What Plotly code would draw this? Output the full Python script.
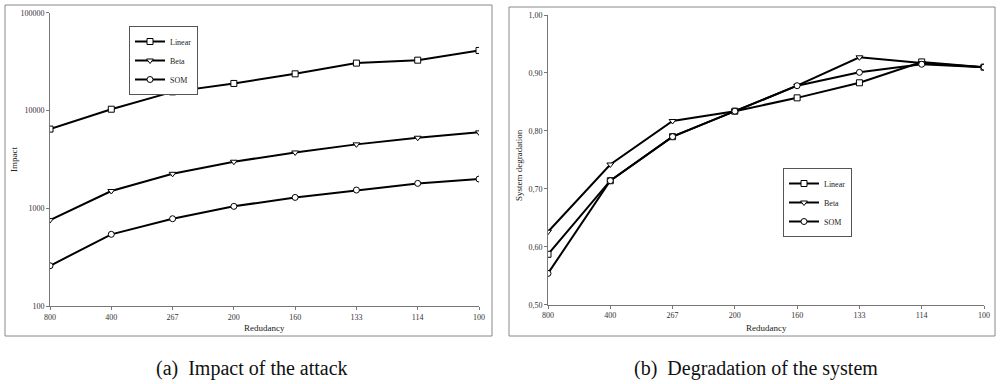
import plotly.graph_objects as go

categories = ["800", "400", "267", "200", "160", "133", "114", "100"]

impact_linear = [6450, 10300, 15500, 18900, 23700, 30500, 32700, 41100]
impact_beta = [757, 1500, 2250, 2990, 3720, 4500, 5260, 5970]
impact_som = [258, 541, 781, 1045, 1290, 1535, 1795, 1990]

degr_linear = [0.587, 0.714, 0.790, 0.834, 0.857, 0.883, 0.919, 0.910]
degr_beta = [0.626, 0.742, 0.817, 0.834, 0.878, 0.927, 0.917, 0.910]
degr_som = [0.554, 0.714, 0.790, 0.834, 0.878, 0.901, 0.915, 0.910]

impact_ticks = [100, 1000, 10000, 100000]
impact_ticktext = ["100", "1000", "10000", "100000"]
degr_ticks = [0.5, 0.6, 0.7, 0.8, 0.9, 1.0]

W, H = 1000, 384
def px(x):
    return x / W
def py(y):
    return 1 - y / H

FONT = "Liberation Serif"
series = [("Linear", "square"), ("Beta", "triangle-down"), ("SOM", "circle")]

fig = go.Figure()
for (name, sym), vals in zip(series, [impact_linear, impact_beta, impact_som]):
    fig.add_trace(go.Scatter(
        x=categories, y=vals, name=name, mode="lines+markers",
        line=dict(color="black", width=2),
        marker=dict(symbol=sym, size=6, color="white", line=dict(color="black", width=1)),
        xaxis="x", yaxis="y", legend="legend"))
for (name, sym), vals in zip(series, [degr_linear, degr_beta, degr_som]):
    fig.add_trace(go.Scatter(
        x=categories, y=vals, name=name, mode="lines+markers",
        line=dict(color="black", width=2),
        marker=dict(symbol=sym, size=6, color="white", line=dict(color="black", width=1)),
        xaxis="x2", yaxis="y2", legend="legend2"))

axis_common = dict(showgrid=False, zeroline=False, showline=True, linecolor="#777",
                   linewidth=1, ticks="outside", ticklen=3, tickcolor="#777",
                   automargin=False,
                   tickfont=dict(family=FONT, size=8, color="#333"))

legend_common = dict(xanchor="left", yanchor="top", bgcolor="white",
                     bordercolor="#555", borderwidth=1,
                     font=dict(family=FONT, size=8, color="#222"),
                     tracegroupgap=0, itemwidth=30)

fig.update_layout(
    template="none",
    width=W, height=H, margin=dict(l=0, r=0, t=0, b=0, pad=0),
    paper_bgcolor="white", plot_bgcolor="white",
    separators=",.",
    xaxis=dict(domain=[px(50), px(479)], anchor="y", type="category",
               range=[0, 7], **axis_common),
    yaxis=dict(domain=[py(306), py(12.7)], anchor="x", type="log",
               range=[2, 5], tickvals=impact_ticks, ticktext=impact_ticktext,
               **axis_common),
    xaxis2=dict(domain=[px(548), px(984)], anchor="y2", type="category",
                range=[0, 7], **axis_common),
    yaxis2=dict(domain=[py(304.7), py(15)], anchor="x2", range=[0.5, 1.0],
                tickvals=degr_ticks, tickformat=".2f", **axis_common),
    legend=dict(x=px(129), y=py(26), **legend_common),
    legend2=dict(x=px(783), y=py(168), **legend_common),
    showlegend=True,
)

shapes = [
    dict(type="rect", xref="paper", yref="paper", x0=px(5), x1=px(492),
         y0=py(336), y1=py(5), line=dict(color="#888", width=1)),
    dict(type="rect", xref="paper", yref="paper", x0=px(509), x1=px(995),
         y0=py(336), y1=py(7), line=dict(color="#888", width=1)),
]
fig.update_layout(shapes=shapes)

ann = [
    dict(text="Impact", x=px(14), y=py(160), textangle=-90),
    dict(text="Redudancy", x=px(264), y=py(328)),
    dict(text="System degradation", x=px(519), y=py(165), textangle=-90),
    dict(text="Redudancy", x=px(766), y=py(328)),
]
annotations = []
for a in ann:
    annotations.append(dict(xref="paper", yref="paper", showarrow=False,
                            xanchor="center", yanchor="middle",
                            font=dict(family=FONT, size=9, color="#222"), **a))
annotations.append(dict(text="(a)  Impact of the attack", x=px(252), y=py(368),
                        xref="paper", yref="paper", showarrow=False,
                        xanchor="center", yanchor="middle",
                        font=dict(family=FONT, size=20, color="#111")))
annotations.append(dict(text="(b)  Degradation of the system", x=px(756), y=py(368),
                        xref="paper", yref="paper", showarrow=False,
                        xanchor="center", yanchor="middle",
                        font=dict(family=FONT, size=20, color="#111")))
fig.update_layout(annotations=annotations)

fig.write_html("out.html",
               config={"displayModeBar": False},
               post_script="document.body.style.margin='0';document.body.style.overflow='hidden';")
